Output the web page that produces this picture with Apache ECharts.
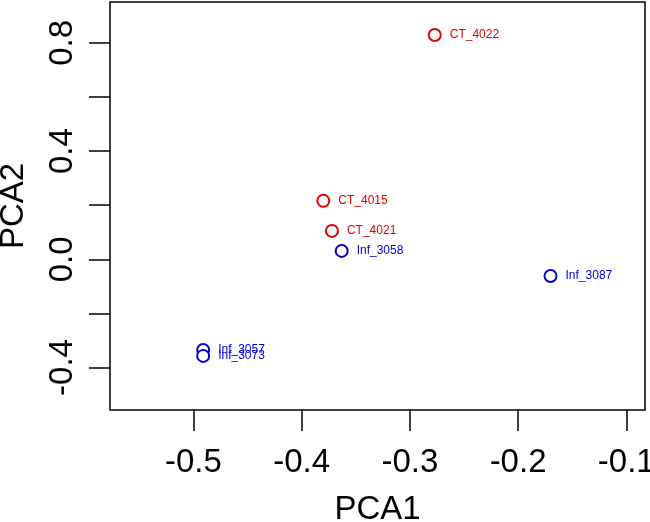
<!DOCTYPE html>
<html>
<head>
<meta charset="utf-8">
<script src="https://cdn.jsdelivr.net/npm/echarts@6/dist/echarts.min.js"></script>
<style>html,body{margin:0;padding:0;background:#fff}#c{width:650px;height:522px}</style>
</head>
<body>
<div id="c"></div>
<script>
var ctNames = ['CT_4022', 'CT_4015', 'CT_4021'];
var ctPCA1 = [-0.277, -0.380, -0.372];
var ctPCA2 = [0.829, 0.216, 0.105];
var infNames = ['Inf_3058', 'Inf_3087', 'Inf_3057', 'Inf_3073'];
var infPCA1 = [-0.363, -0.170, -0.491, -0.491];
var infPCA2 = [0.031, -0.062, -0.335, -0.357];
var xTicks = [-0.5, -0.4, -0.3, -0.2, -0.1];
var yTicks = [-0.4, -0.2, 0.0, 0.2, 0.4, 0.6, 0.8];
var yTickLabels = [-0.4, 0.0, 0.4, 0.8];

var FONT = 'Liberation Sans, Arial, Helvetica, sans-serif';
function pts(xs, ys, ns) { return xs.map(function (x, i) { return [x, ys[i], ns[i]]; }); }
function mk(name, data, color) {
  return {
    name: name, type: 'scatter', data: data, symbol: 'emptyCircle', symbolSize: 12,
    itemStyle: { color: color, borderColor: color, borderWidth: 1.9, opacity: 1 },
    label: { show: true, position: 'right', distance: 8, color: color, fontSize: 12, fontFamily: FONT,
      formatter: function (p) { return p.data[2]; } },
    emphasis: { disabled: true }, animation: false
  };
}
var chart = echarts.init(document.getElementById('c'));
chart.setOption({
  backgroundColor: '#fff',
  animation: false,
  grid: { left: 110, right: 5, top: 2, bottom: 112, show: true, borderColor: '#000', borderWidth: 1.5,
    containLabel: false, outerBoundsMode: 'none' },
  xAxis: {
    type: 'value', min: -0.5771, max: -0.0827,
    name: 'PCA1', nameLocation: 'middle', nameGap: 83,
    nameTextStyle: { fontSize: 33, fontFamily: FONT, color: '#000' },
    axisLine: { show: false, onZero: false }, splitLine: { show: false },
    axisTick: { show: true, length: 21, lineStyle: { color: '#000', width: 1.5 }, customValues: xTicks },
    axisLabel: { fontSize: 33, fontFamily: FONT, color: '#000', margin: 36, customValues: xTicks,
      formatter: function (v) { return v.toFixed(1); } }
  },
  yAxis: {
    type: 'value', min: -0.557, max: 0.951,
    name: 'PCA2', nameLocation: 'middle', nameGap: 80,
    nameTextStyle: { fontSize: 33, fontFamily: FONT, color: '#000' },
    axisLine: { show: false, onZero: false }, splitLine: { show: false },
    axisTick: { show: true, length: 21, lineStyle: { color: '#000', width: 1.5 }, customValues: yTicks },
    axisLabel: { fontSize: 33, fontFamily: FONT, color: '#000', margin: 31, rotate: 90, customValues: yTickLabels,
      formatter: function (v) { return v.toFixed(1); } }
  },
  series: [
    mk('CT', pts(ctPCA1, ctPCA2, ctNames), '#e00000'),
    mk('Inf', pts(infPCA1, infPCA2, infNames), '#0000d8')
  ]
});
</script>
</body>
</html>
